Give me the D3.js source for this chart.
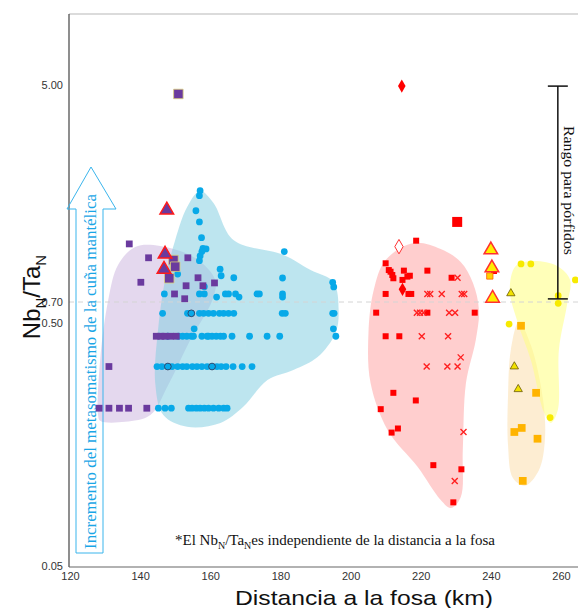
<!DOCTYPE html>
<html>
<head>
<meta charset="utf-8">
<script src="https://cdn.jsdelivr.net/npm/d3@7"></script>
<style>
  body { margin: 0; background: #fff; }
  svg { display: block; }
</style>
</head>
<body>
<svg id="svg" width="578" height="608"></svg>
<script>
// ---- data (distance km, NbN/TaN) ----
const xTicks = [120, 140, 160, 180, 200, 220, 240, 260];
const yTicks = [0.05, 0.5, 0.7, 5];
const porphyryRange = [0.72, 4.95];
const porphyryX = 259.1;

const purpleHull = [[128.0,0.209],[128.6,0.352],[130.9,0.713],[133.7,0.979],[138.6,1.153],[145.7,1.163],[155.7,1.043],[161.4,0.855],[160.6,0.713],[154.3,0.426],[148.0,0.278],[142.9,0.209],[135.7,0.196],[128.6,0.198]];
const cyanHull = [[157.1,1.914],[160.9,1.718],[166.6,1.228],[180.9,1.072],[188.6,0.935],[195.1,0.839],[196.6,0.616],[195.7,0.455],[190.6,0.362],[183.7,0.320],[176.3,0.291],[169.4,0.226],[162.9,0.194],[153.4,0.187],[146.6,0.209],[144.3,0.283],[145.1,0.468],[147.1,0.855],[150.0,1.228],[153.4,1.656]];
const redHull = [[218.0,1.195],[225.7,1.132],[231.4,1.006],[234.9,0.832],[236.6,0.616],[235.7,0.426],[232.9,0.283],[232.0,0.150],[231.4,0.096],[228.6,0.0867],[225.7,0.0935],[219.1,0.128],[210.6,0.181],[205.7,0.283],[205.1,0.455],[206.6,0.780],[210.0,1.024]];
const yellowHull = [[247.1,0.970],[252.0,1.015],[258.9,0.970],[262.6,0.855],[261.7,0.667],[259.4,0.387],[259.1,0.219],[257.1,0.194],[255.1,0.215],[251.4,0.352],[247.7,0.50],[245.4,0.780]];
const orangeHull = [[248.0,0.508],[251.4,0.406],[254.9,0.241],[255.4,0.165],[253.7,0.124],[249.7,0.107],[246.3,0.115],[244.9,0.157],[244.9,0.253],[245.7,0.387]];

const purpleSquares = [[136.9,1.185],[142.4,1.045],[153.6,1.045],[140.2,0.837],[156.5,0.872],[153.1,0.811],[157.9,0.811],[161.2,0.832],[149.8,0.753],[152.7,0.721],[131.1,0.331],
  [144.6,0.441],[145.9,0.441],[147.1,0.441],[148.6,0.441],[150.3,0.441],
  [128.3,0.223],[131.1,0.223],[134.1,0.223],[136.7,0.223],[141.9,0.223]];
const purpleBig = [[150.9,4.61],[149.5,1.024],[150.0,0.964],[148.3,0.868]];
const purpleTriangles = [[147.6,1.61],[147.1,1.08],[146.8,0.942]];

const cyanScatter = [[157.1,1.92],[156.9,1.835],[155.9,1.60],[156.9,1.446],[157.5,1.254],[157.9,1.137],[158.8,1.132],[157.6,1.105],[157.1,1.062],[156.9,1.018],
  [150.7,0.902],[162.8,0.942],[163.1,0.888],[166.7,0.872],[181.1,1.105],[180.6,0.870],[194.9,0.837],[195.2,0.802],[158.3,0.804],[146.9,0.753],
  [155.4,0.473],[195.1,0.473],[195.8,0.441]];
const cyanRow0753 = [156.9,158.3,164.3,165.2,167.2,173.3,174.0,180.6];
const cyanRow0732 = [161.8,168.2,180.6];
const cyanRow0584 = [146.4,153.5,154.6,156.9,158.1,159.5,160.9,162.6,163.8,165.2,166.7,180.5,181.4,194.9,195.3];
const cyanRow0441 = [147.9,150.9,152.1,153.3,154.6,155.2,157.6,159.1,159.5,160.5,161.7,162.9,163.8,166.2,171.2,176.2,179.8];
const cyanRow0331 = [144.8,146.2,147.9,149.1,150.7,152.1,153.3,154.9,156.2,157.6,159.1,160.5,161.9,163.1,164.5,166.5,169.1,171.9];
const cyanRow0223 = [145.2,147.1,148.9,153.8,154.8,156.0,157.1,158.3,159.5,160.9,162.4,163.8,164.8];
const cyanRinged = [[154.6,0.584],[147.9,0.331],[160.5,0.331]];

const redSquares = [[210.0,0.994],[210.9,0.935],[211.4,0.921],[211.9,0.894],[212.2,0.868],[215.2,0.930],[214.8,0.855],[216.2,0.881],[216.9,0.888],[221.9,0.930],[228.8,0.872],
  [210.0,0.753],[216.5,0.753],[217.3,0.753],[207.3,0.590],[221.9,0.590],[235.4,0.590],[210.0,0.441],[213.9,0.441],
  [212.2,0.258],[218.6,0.240],[208.6,0.221],[213.5,0.184],[211.7,0.177],[223.6,0.130],[231.6,0.125],[229.3,0.0914],[218.7,1.22],[240.9,0.927]];
const redBig = [[230.4,1.446]];
const redDiamonds = [[214.6,4.95],[214.8,0.785]];
const redDiamondsOpen = [[213.8,1.156]];
const redCrosses = [[230.5,0.872],[221.9,0.753],[222.7,0.753],[226.0,0.753],[231.7,0.753],[232.4,0.753],[218.9,0.590],[219.8,0.590],[220.8,0.590],[228.1,0.590],[229.8,0.590],
  [220.3,0.441],[227.8,0.441],[231.4,0.361],[221.7,0.331],[227.6,0.331],[230.5,0.331],[232.2,0.178],[229.7,0.112]];

const yellowTriangles = [[240.0,1.122],[240.3,0.953],[240.5,0.724]];
const yellowSquares = [[239.7,0.886]];
const yellowCircles = [[248.6,0.988],[251.4,0.988],[264.1,0.855],[259.2,0.741],[259.2,0.685],[245.2,0.495],[256.9,0.204]];
const smallTriangles = [[245.7,0.757],[246.7,0.331],[247.8,0.267]];
const orangeSquares = [[248.6,0.487],[252.9,0.258],[248.8,0.185],[246.7,0.178],[253.3,0.167],[249.1,0.112]];

// ---- layout ----
const plotLeft = 69, plotRight = 578, plotTop = 14, plotBottom = 567;
const svg = d3.select("#svg");

const x = d3.scaleLinear().domain([120, 260]).range([70, 561]);
// log axis drawn with uneven label spacing in the original, so piecewise
const y = d3.scaleLog().domain([0.05, 0.5, 0.7, 5]).range([566, 323, 302, 85]);

const blob = d3.line()
    .x(d => x(d[0]))
    .y(d => y(d[1]))
    .curve(d3.curveCatmullRomClosed.alpha(0.5));

svg.append("path").attr("d", blob(purpleHull)).style("fill", "#cdb8e0").style("opacity", 0.55);
svg.append("path").attr("d", blob(cyanHull)).style("fill", "#86cfe2").style("opacity", 0.55);
svg.append("path").attr("d", blob(redHull)).style("fill", "#ffa6a6").style("opacity", 0.55);
svg.append("path").attr("d", blob(orangeHull)).style("fill", "#fbdca6").style("opacity", 0.5);
svg.append("path").attr("d", blob(yellowHull)).style("fill", "#ffff80").style("opacity", 0.55);

// frame
svg.append("line").attr("x1", plotLeft).attr("x2", plotRight).attr("y1", plotTop).attr("y2", plotTop)
    .style("stroke", "#cfcfcf").style("stroke-width", 1.5);
svg.append("line").attr("x1", plotLeft).attr("x2", plotRight).attr("y1", y(0.7)).attr("y2", y(0.7))
    .style("stroke", "#d4d4d4").style("stroke-dasharray", "5,4");
svg.append("line").attr("x1", plotLeft).attr("x2", plotLeft).attr("y1", plotTop).attr("y2", plotBottom)
    .style("stroke", "#444").style("stroke-width", 1.2);
svg.append("line").attr("x1", plotLeft).attr("x2", plotRight).attr("y1", plotBottom).attr("y2", plotBottom)
    .style("stroke", "#666").style("stroke-width", 1.2);

const xAxis = svg.append("g").attr("transform", "translate(0," + plotBottom + ")")
    .call(d3.axisBottom(x).tickValues(xTicks).tickSize(0).tickPadding(5));
xAxis.select(".domain").remove();
xAxis.selectAll("text").style("font-family", "Liberation Sans").style("font-size", "11px").style("fill", "#333");

const yAxis = svg.append("g").attr("transform", "translate(" + plotLeft + ",0)")
    .call(d3.axisLeft(y).tickValues(yTicks).tickFormat(d3.format(".2f")).tickSize(0).tickPadding(6));
yAxis.select(".domain").remove();
yAxis.selectAll("text").style("font-family", "Liberation Sans").style("font-size", "11px").style("fill", "#333");

// ---- metasomatism arrow ----
const arrow = svg.append("g");
arrow.append("path")
    .attr("d", "M91,167 L116,209 L103,209 L103,553 L76,553 L76,209 L67,209 Z")
    .style("fill", "none").style("stroke", "#3bb5ec").style("stroke-width", 1);
arrow.append("text")
    .attr("transform", "translate(96,549)rotate(-90)")
    .attr("textLength", 355).attr("lengthAdjust", "spacingAndGlyphs")
    .style("font-family", "Liberation Serif").style("font-size", "17px").style("fill", "#1aa6e6")
    .text("Incremento del metasomatismo de la cuña mantélica");

// ---- marks ----
const sym = (type, size) => d3.symbol().type(type).size(size)();
function draw(data, path, fill, stroke, sw) {
    svg.append("g").selectAll("path").data(data).join("path")
        .attr("transform", d => "translate(" + x(d[0]) + "," + y(d[1]) + ")")
        .attr("d", path)
        .style("fill", fill)
        .style("stroke", stroke || "none")
        .style("stroke-width", sw || 0);
}
const rows = (xs, v) => xs.map(k => [k, v]);
const cyanAll = cyanScatter.concat(rows(cyanRow0753, 0.753), rows(cyanRow0732, 0.732),
    rows(cyanRow0584, 0.584), rows(cyanRow0441, 0.441), rows(cyanRow0331, 0.331), rows(cyanRow0223, 0.223));

draw(cyanAll, sym(d3.symbolCircle, 36), "#08a9e8");
draw(cyanRinged, sym(d3.symbolCircle, 36), "#08a9e8", "#335", 0.8);
draw(purpleSquares, sym(d3.symbolSquare, 46), "#6a3a9e");
draw(purpleBig, sym(d3.symbolSquare, 90), "#6a3a9e", "#d9cf7a", 0.8);
draw(purpleTriangles, sym(d3.symbolTriangle, 80), "#6a3a9e", "#ff1a1a", 1.5);

draw(redSquares, sym(d3.symbolSquare, 36), "#ff0000");
draw(redBig, sym(d3.symbolSquare, 100), "#ff0000");
draw(redDiamonds, sym(d3.symbolDiamond, 50), "#ff0000");
draw(redDiamondsOpen, sym(d3.symbolDiamond, 60), "#fff", "#ff3030", 1);
draw(redCrosses, "M-3,-3L3,3M-3,3L3,-3", "none", "#ff2020", 1.4);

draw(orangeSquares, sym(d3.symbolSquare, 60), "#ffb400");
draw(yellowSquares, sym(d3.symbolSquare, 40), "#ffd000", "#ff6000", 0.8);
draw(yellowTriangles, sym(d3.symbolTriangle, 80), "#ffee00", "#ff3030", 1.5);
draw(yellowCircles, sym(d3.symbolCircle, 36), "#f7ea00");
draw(smallTriangles, sym(d3.symbolTriangle, 30), "#f2e200", "#6b5a00", 0.8);

// ---- porphyry range ----
const px = x(porphyryX);
const rg = svg.append("g").style("stroke", "#111").style("stroke-width", 1.5);
rg.append("line").attr("x1", px).attr("x2", px).attr("y1", y(porphyryRange[0])).attr("y2", y(porphyryRange[1]));
porphyryRange.forEach(v => rg.append("line").attr("x1", px - 10).attr("x2", px + 10).attr("y1", y(v)).attr("y2", y(v)));
svg.append("text")
    .attr("transform", "translate(564,126)rotate(90)")
    .attr("textLength", 129).attr("lengthAdjust", "spacingAndGlyphs")
    .style("font-family", "Liberation Serif").style("font-size", "15px").style("fill", "#111")
    .text("Rango para pórfidos");

// ---- labels ----
svg.append("text")
    .attr("x", 364).attr("y", 605).attr("text-anchor", "middle")
    .attr("textLength", 258).attr("lengthAdjust", "spacingAndGlyphs")
    .style("font-family", "Liberation Sans").style("font-size", "21px").style("fill", "#111")
    .text("Distancia a la fosa (km)");

const yl = svg.append("text")
    .attr("transform", "translate(40,297)rotate(-90)")
    .attr("text-anchor", "middle")
    .style("font-family", "Liberation Sans").style("font-size", "24px").style("fill", "#111");
yl.append("tspan").text("Nb");
yl.append("tspan").attr("dy", 6).style("font-size", "15px").text("N");
yl.append("tspan").attr("dy", -6).text("/Ta");
yl.append("tspan").attr("dy", 6).style("font-size", "15px").text("N");

const note = svg.append("text")
    .attr("x", 175).attr("y", 545)
    .style("font-family", "Liberation Serif").style("font-size", "15px").style("fill", "#111");
note.append("tspan").text("*El Nb");
note.append("tspan").attr("dy", 4).style("font-size", "10px").text("N");
note.append("tspan").attr("dy", -4).text("/Ta");
note.append("tspan").attr("dy", 4).style("font-size", "10px").text("N");
note.append("tspan").attr("dy", -4).text("es independiente de la distancia a la fosa");
</script>
</body>
</html>
